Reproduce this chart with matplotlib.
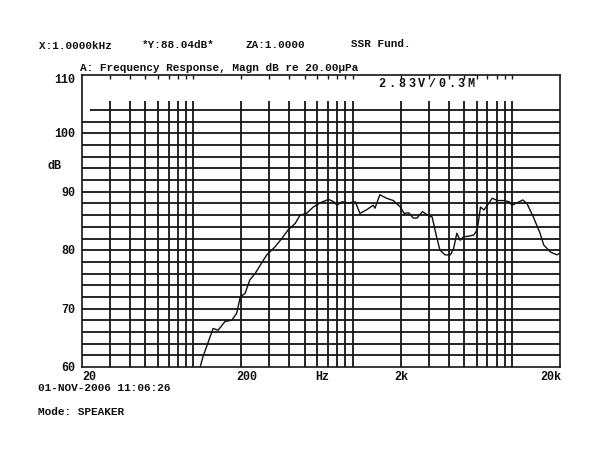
import matplotlib
matplotlib.use("Agg")
import matplotlib.pyplot as plt
import numpy as np

freq = [109, 115, 133, 143, 158, 174, 187, 197, 211, 226, 244, 268, 289, 326, 359, 394,
        436, 467, 513, 566, 624, 705, 760, 797, 855, 942, 1038, 1110, 1220, 1345, 1380,
        1480, 1630, 1800, 1990, 2100, 2250, 2400, 2530, 2740, 3000, 3150, 3360, 3530,
        3800, 4100, 4300, 4500, 4730, 4960, 5350, 5750, 6050, 6340, 6660, 7000, 7500,
        8100, 8900, 9600, 10000, 10700, 11700, 12400, 13600, 15000, 15800, 17400, 19100, 20000]
level = [59.5, 61.8, 66.6, 66.3, 67.8, 68.0, 69.2, 72.0, 72.6, 74.9, 76.0, 77.8, 79.2, 80.6, 82.0, 83.5,
         84.6, 86.0, 86.3, 87.4, 88.1, 88.7, 88.3, 87.7, 88.3, 88.1, 88.3, 86.3, 86.9, 87.7, 87.2,
         89.5, 88.9, 88.5, 87.4, 86.3, 86.4, 85.5, 85.5, 86.6, 85.9, 85.7, 82.3, 80.0,
         79.2, 79.2, 80.3, 82.9, 81.7, 82.3, 82.4, 82.6, 83.5, 87.4, 86.9, 87.7, 88.9,
         88.5, 88.5, 88.3, 87.7, 88.1, 88.6, 88.0, 85.7, 82.9, 80.9, 79.7, 79.2, 79.5]

grid_f = [30, 40, 50, 60, 70, 80, 90, 100, 200, 300, 400, 500, 600, 700, 800, 900, 1000,
          2000, 3000, 4000, 5000, 6000, 7000, 8000, 9000, 10000]
grid_db = list(range(62, 105, 2))
y_labels = [60, 70, 80, 90, 100, 110]
x_labels = [(20, "20"), (200, "200"), (632, "Hz"), (2000, "2k"), (20000, "20k")]

W, H = 601, 465
fig = plt.figure(figsize=(W/100, H/100), dpi=100)
fig.patch.set_facecolor("white")
ax = fig.add_axes([82/W, 1-367/H, (560-82)/W, (367-75)/H])
ax.set_xscale("log")
ax.set_xlim(20, 20000)
ax.set_ylim(60, 110)

fnt = dict(family=["Liberation Mono", "DejaVu Sans Mono"], weight="bold", color="#111111")
ink = "#151515"

for s in ax.spines.values():
    s.set_linewidth(1.2)
    s.set_color(ink)

# grid as printed by the analyser
for d in grid_db:
    x0 = 22.5 if d == 104 else 20
    ax.hlines(d, x0, 20000, color=ink, lw=1.3)
ax.vlines(grid_f, 60, 105.5, color=ink, lw=1.3)

ax.plot(freq, level, color="#111111", lw=1.0, clip_on=True)

# little ticks along the top edge
ax.set_xticks(grid_f)
ax.xaxis.set_minor_locator(matplotlib.ticker.NullLocator())
ax.tick_params(axis="x", which="both", top=True, bottom=False, direction="in",
               length=3, width=1, labelbottom=False, colors=ink)
ax.set_yticks([])

def ftext(x, y, s, **kw):
    fig.text(x/W, 1-y/H, s, va="center", **fnt, **kw)

for v in y_labels:
    yy = 367 - (v-60)*5.84 + (5 if v == 110 else 1)
    ftext(75, yy, str(v), ha="right", fontsize=8.5)
ftext(47, 166, "dB", ha="left", fontsize=8.5)

for f, s in x_labels:
    xx = 82 + np.log10(f/20)*159.3
    if s == "20":
        ftext(xx, 377, s, ha="left", fontsize=8.5)
    elif s == "20k":
        ftext(xx+1, 377, s, ha="right", fontsize=8.5)
    else:
        ftext(xx+5 if s == "200" else xx+1, 377, s, ha="center", fontsize=8.5)

ftext(39, 46, "X:1.0000kHz", ha="left", fontsize=7.9)
ftext(142, 45, "*Y:88.04dB*", ha="left", fontsize=7.9)
ftext(245, 45, "ZA:1.0000", ha="left", fontsize=7.9)
ftext(351, 44, "SSR Fund.", ha="left", fontsize=7.9)
ftext(80, 68, "A: Frequency Response, Magn dB re 20.00\u00b5Pa", ha="left", fontsize=8.0)

for i, ch in enumerate("2.83V/0.3M"):
    ftext(382 + i*9.9, 84, ch, ha="center", fontsize=8.5)

ftext(38, 388, "01-NOV-2006 11:06:26", ha="left", fontsize=8.0)
ftext(38, 412, "Mode: SPEAKER", ha="left", fontsize=8.0)

fig.savefig("out.png", dpi=100)
